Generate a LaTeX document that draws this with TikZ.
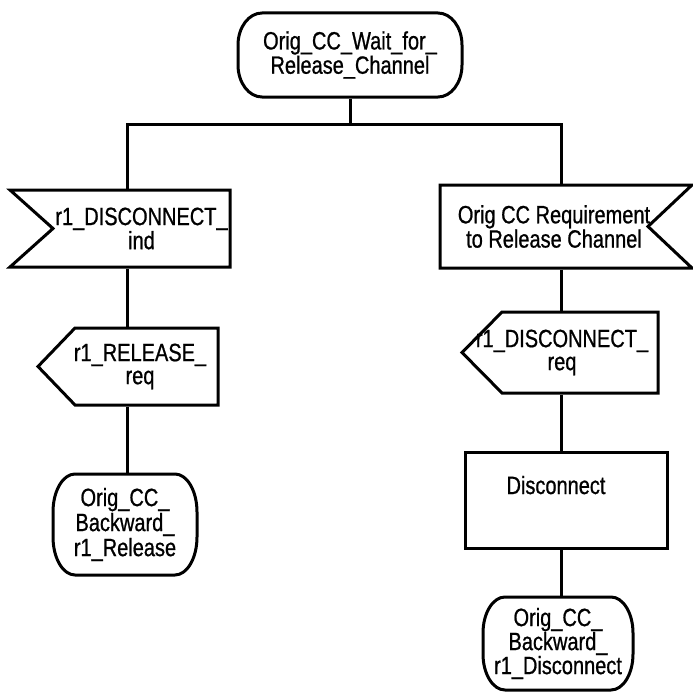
\documentclass[tikz,border=0pt]{standalone}
\usepackage{fontspec}
\setmainfont[FakeStretch=0.8,FakeBold=0.8]{Liberation Sans}
\usetikzlibrary{calc}

% SDL state symbol round a named node: half width, half height, corner radii
\newcommand\stateoutline[5]{%
  \draw[shift={(#1.center)}] (-#2+#4,#3) -- (#2-#4,#3)
    arc[start angle=90,end angle=0,x radius=#4pt,y radius=#5pt]
    -- (#2,-#3+#5)
    arc[start angle=0,end angle=-90,x radius=#4pt,y radius=#5pt]
    -- (-#2+#4,-#3)
    arc[start angle=270,end angle=180,x radius=#4pt,y radius=#5pt]
    -- (-#2,#3-#5)
    arc[start angle=180,end angle=90,x radius=#4pt,y radius=#5pt]
    -- cycle;}

\begin{document}
\begin{tikzpicture}[x=1pt,y=1pt,line width=3pt,line join=miter,
  every node/.style={inner sep=0pt,font=\fontsize{25}{23}\selectfont},
  sdltext/.style={align=center},
  flow/.style={line width=3pt}]
\useasboundingbox (0,0) rectangle (693,-693);

% text of the symbols
\node[sdltext,minimum width=224,minimum height=84] (s0) at (350,-55)
  {Orig\_CC\_Wait\_for\_\\Release\_Channel};
\node[sdltext,minimum width=177,minimum height=77] (lin) at (141.5,-228.5)
  {r1\_DISCONNECT\_\\ind};
\node[sdltext,minimum width=188,minimum height=83] (rin) at (554,-226.5)
  {Orig CC Requirement\\to Release Channel};
\node[sdltext,minimum width=156,minimum height=77] (lout) at (140,-366.5)
  {r1\_RELEASE\_\\req};
\node[sdltext,minimum width=192,minimum height=81] (rout) at (562,-352.5)
  {r1\_DISCONNECT\_\\req};
\node[minimum width=202,minimum height=96,text height=18pt,text depth=30pt] (dis) at (566,-500)
  {\hspace*{-20pt}Disconnect};
\node[sdltext,minimum width=144,minimum height=101,font=\fontsize{25}{25}\selectfont] (s1) at (125,-524.5)
  {Orig\_CC\_\\Backward\_\\r1\_Release};
\node[sdltext,minimum width=150,minimum height=93,font=\fontsize{25}{24}\selectfont] (s2) at (558,-643.5)
  {Orig\_CC\_\\Backward\_\\r1\_Disconnect};

% states
\stateoutline{s0}{112}{42}{24}{32}
\stateoutline{s1}{72}{50.5}{22}{38}
\stateoutline{s2}{75}{46.5}{22}{36}

% input signals (notched)
\draw[shift={(lin.center)}] (-131.5,38.5) -- (88.5,38.5) -- (88.5,-38.5)
  -- (-131.5,-38.5) -- (-88.5,0) -- cycle;
\draw[shift={(rin.center)}] (-114,41.5) -- (138,41.5) -- (94,0)
  -- (138,-41.5) -- (-114,-41.5) -- cycle;

% output signals (pointed)
\draw[shift={(lout.center)}] (-65,38.5) -- (78,38.5) -- (78,-38.5)
  -- (-65,-38.5) -- (-102,0) -- cycle;
\draw[shift={(rout.center)}] (-60,40.5) -- (96,40.5) -- (96,-40.5)
  -- (-60,-40.5) -- (-100,0) -- cycle;

% task
\draw[shift={(dis.center)}] (-101,48) rectangle (101,-48);

% connectors
\coordinate (hub) at (350,-124);
\coordinate (colL) at (127,-124);
\coordinate (colR) at (561,-124);
\draw[flow] (s0.south) -- (hub);
\draw[flow] (colL |- lin.north) -- (colL) -- (colR) -- (colR |- rin.north);
\draw[flow] (colL |- lin.south) -- (colL |- lout.north);
\draw[flow] (colL |- lout.south) -- (colL |- s1.north);
\draw[flow] (colR |- rin.south) -- (colR |- rout.north);
\draw[flow] (colR |- rout.south) -- (colR |- dis.north);
\draw[flow] (colR |- dis.south) -- (colR |- s2.north);
\end{tikzpicture}
\end{document}
